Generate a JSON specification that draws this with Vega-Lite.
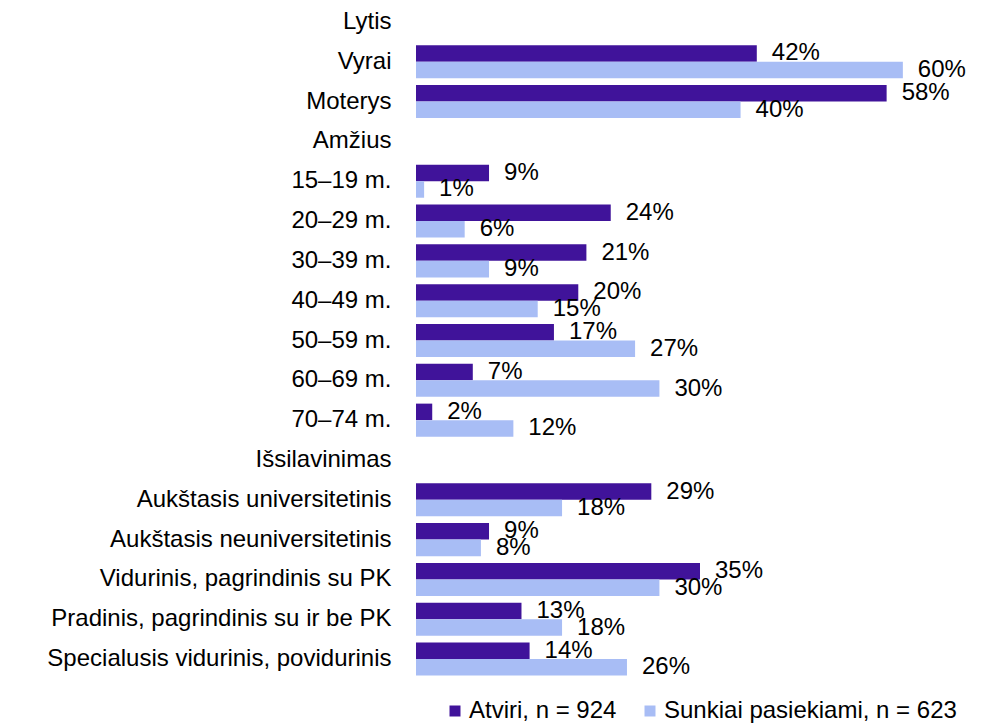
{
  "$schema": "https://vega.github.io/schema/vega-lite/v6.json",
  "width": 568,
  "height": 677,
  "autosize": {"type": "none"},
  "padding": {"left": 416, "top": 2, "right": 3, "bottom": 44},
  "config": {
    "font": "Liberation Sans",
    "view": {"stroke": null},
    "background": "white"
  },
  "data": {
    "values": [
      {"cat": "Vyrai", "s": "Atviri, n = 924", "v": 42},
      {"cat": "Vyrai", "s": "Sunkiai pasiekiami, n = 623", "v": 60},
      {"cat": "Moterys", "s": "Atviri, n = 924", "v": 58},
      {"cat": "Moterys", "s": "Sunkiai pasiekiami, n = 623", "v": 40},
      {"cat": "15–19 m.", "s": "Atviri, n = 924", "v": 9},
      {"cat": "15–19 m.", "s": "Sunkiai pasiekiami, n = 623", "v": 1},
      {"cat": "20–29 m.", "s": "Atviri, n = 924", "v": 24},
      {"cat": "20–29 m.", "s": "Sunkiai pasiekiami, n = 623", "v": 6},
      {"cat": "30–39 m.", "s": "Atviri, n = 924", "v": 21},
      {"cat": "30–39 m.", "s": "Sunkiai pasiekiami, n = 623", "v": 9},
      {"cat": "40–49 m.", "s": "Atviri, n = 924", "v": 20},
      {"cat": "40–49 m.", "s": "Sunkiai pasiekiami, n = 623", "v": 15},
      {"cat": "50–59 m.", "s": "Atviri, n = 924", "v": 17},
      {"cat": "50–59 m.", "s": "Sunkiai pasiekiami, n = 623", "v": 27},
      {"cat": "60–69 m.", "s": "Atviri, n = 924", "v": 7},
      {"cat": "60–69 m.", "s": "Sunkiai pasiekiami, n = 623", "v": 30},
      {"cat": "70–74 m.", "s": "Atviri, n = 924", "v": 2},
      {"cat": "70–74 m.", "s": "Sunkiai pasiekiami, n = 623", "v": 12},
      {"cat": "Aukštasis universitetinis", "s": "Atviri, n = 924", "v": 29},
      {"cat": "Aukštasis universitetinis", "s": "Sunkiai pasiekiami, n = 623", "v": 18},
      {"cat": "Aukštasis neuniversitetinis", "s": "Atviri, n = 924", "v": 9},
      {"cat": "Aukštasis neuniversitetinis", "s": "Sunkiai pasiekiami, n = 623", "v": 8},
      {"cat": "Vidurinis, pagrindinis su PK", "s": "Atviri, n = 924", "v": 35},
      {"cat": "Vidurinis, pagrindinis su PK", "s": "Sunkiai pasiekiami, n = 623", "v": 30},
      {"cat": "Pradinis, pagrindinis su ir be PK", "s": "Atviri, n = 924", "v": 13},
      {"cat": "Pradinis, pagrindinis su ir be PK", "s": "Sunkiai pasiekiami, n = 623", "v": 18},
      {"cat": "Specialusis vidurinis, povidurinis", "s": "Atviri, n = 924", "v": 14},
      {"cat": "Specialusis vidurinis, povidurinis", "s": "Sunkiai pasiekiami, n = 623", "v": 26}
    ]
  },
  "transform": [{"calculate": "datum.v + '%'", "as": "label"}],
  "encoding": {
    "y": {
      "field": "cat",
      "type": "nominal",
      "scale": {
        "domain": ["Lytis", "Vyrai", "Moterys", "Amžius", "15–19 m.", "20–29 m.", "30–39 m.", "40–49 m.", "50–59 m.", "60–69 m.", "70–74 m.", "Išsilavinimas", "Aukštasis universitetinis", "Aukštasis neuniversitetinis", "Vidurinis, pagrindinis su PK", "Pradinis, pagrindinis su ir be PK", "Specialusis vidurinis, povidurinis"],
        "paddingInner": 0.17,
        "paddingOuter": 0.085
      },
      "axis": {
        "title": null,
        "domain": false,
        "ticks": false,
        "labelFontSize": 24,
        "labelColor": "#000000",
        "labelPadding": 25,
        "labelLimit": 500
      }
    },
    "yOffset": {
      "field": "s",
      "type": "nominal",
      "scale": {"domain": ["Atviri, n = 924", "Sunkiai pasiekiami, n = 623"]}
    },
    "x": {
      "field": "v",
      "type": "quantitative",
      "scale": {"domain": [0, 70], "nice": false},
      "axis": null
    }
  },
  "layer": [
    {
      "mark": {"type": "bar"},
      "encoding": {
        "color": {
          "field": "s",
          "type": "nominal",
          "scale": {
            "domain": ["Atviri, n = 924", "Sunkiai pasiekiami, n = 623"],
            "range": ["#40139a", "#a8bdf5"]
          },
          "legend": {
            "title": null,
            "orient": "none",
            "direction": "horizontal",
            "legendX": 27,
            "legendY": 697,
            "symbolType": "square",
            "symbolSize": 121,
            "symbolStrokeWidth": 0,
            "labelFontSize": 24,
            "labelColor": "#000000",
            "labelOffset": 2,
            "columnPadding": 21,
            "labelLimit": 400
          }
        }
      }
    },
    {
      "mark": {"type": "text", "align": "left", "baseline": "middle", "dx": 15, "fontSize": 24, "color": "#000000"},
      "encoding": {"text": {"field": "label"}}
    }
  ]
}
